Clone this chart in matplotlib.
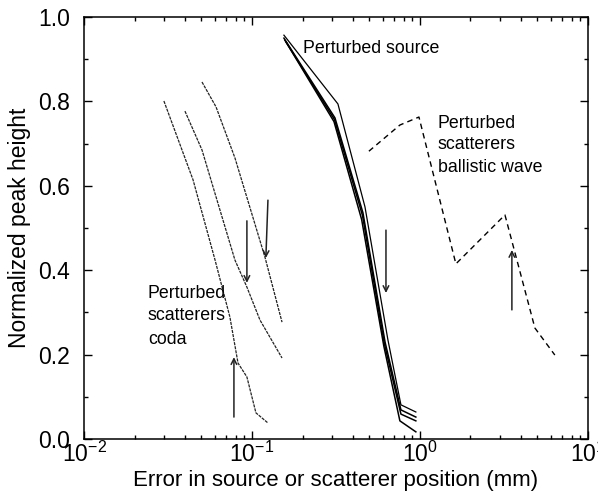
import matplotlib
matplotlib.use("Agg")
import matplotlib.pyplot as plt
from matplotlib.ticker import LogLocator, MultipleLocator, FixedLocator, FixedFormatter

plt.rcParams['font.family'] = ['Liberation Sans', 'DejaVu Sans']
plt.rcParams['mathtext.default'] = 'regular'

# Perturbed scatterers, coda (three curves)
coda1_x = [0.0299, 0.0446, 0.0603, 0.0739, 0.0826, 0.0933, 0.1056, 0.1245]
coda1_y = [0.801, 0.614, 0.424, 0.289, 0.180, 0.147, 0.062, 0.038]
coda2_x = [0.0399, 0.0504, 0.0792, 0.0933, 0.1116, 0.151]
coda2_y = [0.777, 0.685, 0.424, 0.360, 0.282, 0.192]
coda3_x = [0.0504, 0.0611, 0.0792, 0.1195, 0.151]
coda3_y = [0.846, 0.787, 0.666, 0.431, 0.277]

# Perturbed source (bundle of curves)
src1_x = [0.155, 0.325, 0.471, 0.645, 0.771, 0.946]
src1_y = [0.957, 0.794, 0.550, 0.235, 0.081, 0.064]
src2_x = [0.155, 0.312, 0.458, 0.620, 0.771, 0.946]
src2_y = [0.950, 0.761, 0.536, 0.230, 0.069, 0.052]
src3_x = [0.157, 0.310, 0.455, 0.615, 0.771, 0.946]
src3_y = [0.945, 0.757, 0.530, 0.225, 0.059, 0.043]
src4_x = [0.160, 0.308, 0.450, 0.610, 0.760, 0.946]
src4_y = [0.940, 0.752, 0.520, 0.220, 0.043, 0.017]

# Perturbed scatterers, ballistic wave
ball_x = [0.497, 0.760, 0.987, 1.638, 3.21, 4.84, 6.36]
ball_y = [0.682, 0.744, 0.763, 0.415, 0.531, 0.263, 0.199]

# arrows: (x_start, y_start, x_end, y_end)
arrows = [
    (0.0933, 0.517, 0.0933, 0.370),
    (0.1245, 0.566, 0.121, 0.429),
    (0.0781, 0.052, 0.0781, 0.194),
    (0.628, 0.495, 0.628, 0.346),
    (3.53, 0.306, 3.53, 0.448),
]

xtick_vals = [0.01, 0.1, 1, 10]
xtick_labels = ['$10^{-2}$', '$10^{-1}$', '$10^{0}$', '$10^{1}$']

fig = plt.figure(figsize=(5.98, 4.96), dpi=100)
ax = fig.add_axes([0.1405, 0.1149, 0.8425, 0.8508])

for xs, ys in [(coda1_x, coda1_y), (coda2_x, coda2_y), (coda3_x, coda3_y)]:
    ax.plot(xs, ys, color='#222222', lw=0.9, ls=(0, (2.5, 0.8)))

ax.plot(src1_x, src1_y, color='black', lw=0.9)
for xs, ys in [(src2_x, src2_y), (src3_x, src3_y), (src4_x, src4_y)]:
    ax.plot(xs, ys, color='black', lw=1.1)

ax.plot(ball_x, ball_y, color='black', lw=1.0, ls=(0, (4, 3)))

for x0, y0, x1, y1 in arrows:
    ax.annotate('', xy=(x1, y1), xytext=(x0, y0),
                arrowprops=dict(arrowstyle='->', lw=1.1, color='#222222',
                                shrinkA=0, shrinkB=0, mutation_scale=10))

fs_ann = 12.8
ax.text(0.201, 0.915, 'Perturbed source', fontsize=fs_ann, va='baseline')
ax.text(1.28, 0.737, 'Perturbed', fontsize=fs_ann, va='baseline')
ax.text(1.28, 0.687, 'scatterers', fontsize=fs_ann, va='baseline')
ax.text(1.28, 0.633, 'ballistic wave', fontsize=fs_ann, va='baseline')
ax.text(0.0240, 0.334, 'Perturbed', fontsize=fs_ann, va='baseline')
ax.text(0.0240, 0.282, 'scatterers', fontsize=fs_ann, va='baseline')
ax.text(0.0240, 0.225, 'coda', fontsize=fs_ann, va='baseline')

ax.set_xscale('log')
ax.set_xlim(0.01, 10)
ax.set_ylim(0, 1.0)
ax.xaxis.set_major_locator(FixedLocator(xtick_vals))
ax.xaxis.set_major_formatter(FixedFormatter(xtick_labels))
ax.xaxis.set_minor_locator(LogLocator(base=10, subs=range(2, 10)))
ax.yaxis.set_major_locator(MultipleLocator(0.2))
ax.yaxis.set_minor_locator(MultipleLocator(0.1))
ax.yaxis.set_major_formatter(matplotlib.ticker.FormatStrFormatter('%.1f'))

ax.tick_params(which='both', direction='in', top=True, right=True, width=1.0)
ax.tick_params(which='major', length=6, labelsize=16.5)
ax.tick_params(which='minor', length=3)
ax.tick_params(axis='x', which='major', pad=2)
ax.tick_params(axis='y', which='major', pad=10)
for s in ax.spines.values():
    s.set_linewidth(1.1)

ax.set_xlabel('Error in source or scatterer position (mm)', fontsize=16, labelpad=2)
ax.set_ylabel('Normalized peak height', fontsize=16.5, labelpad=5)

fig.savefig('out.png', dpi=100)
